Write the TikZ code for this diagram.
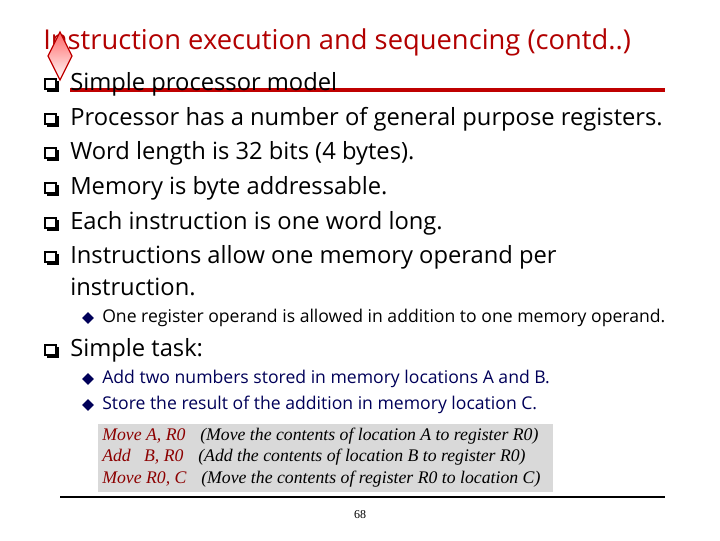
\documentclass[tikz,border=0pt]{standalone}
\usepackage{fontspec}
\usetikzlibrary{shapes.geometric}
\setmainfont{Open Sans}
\newfontfamily\codefont{Liberation Serif}
\begin{document}
\begin{tikzpicture}[x=0.75pt,y=-0.75pt,
  tx/.style={anchor=west,inner sep=0,font=\fontsize{17.8}{19}\selectfont},
  sub/.style={anchor=west,inner sep=0,font=\fontsize{13.2}{15}\selectfont,text=blue!35!black},
  cd/.style={anchor=west,inner sep=0,font=\codefont\itshape\fontsize{13.3}{15}\selectfont},
  db/.style={fill=blue!35!black,shape=diamond,minimum size=9pt,inner sep=0}]
\useasboundingbox (0,0) rectangle (720,540);
\fill[white] (0,0) rectangle (720,540);
% title
\node[anchor=west,inner sep=0,text=red!70!black,font=\fontsize{20.5}{22}\selectfont] (title) at (43,42) {Instruction execution and sequencing (contd..)};
% red underline
\coordinate (ra) at (70,90); \coordinate (rb) at (665,90);
\draw[red!75!black,line width=3pt] (ra) -- (rb);
% bullets
\foreach \y/\n in {84/a,119/b,153/c,188/d,223/e,257/f,350/g}{
  \fill[black] (47,\y-3) rectangle (59,\y+8);
  \draw[black,fill=white,line width=0.9pt] (45,\y-5) rectangle (56,\y+5);
  \coordinate (q\n) at (50,\y);
}
% diamond ornament
\path[top color=red!60,bottom color=white,draw=red!75!black,line width=1pt] (60,32) -- (72,56) -- (60,80) -- (48,56) -- cycle;
\node[tx] (t1) at (70,84) {Simple processor model};
\node[tx] (t2) at (70,119) {Processor has a number of general purpose registers.};
\node[tx] (t3) at (70,153) {Word length is 32 bits (4 bytes).};
\node[tx] (t4) at (70,188) {Memory is byte addressable.};
\node[tx] (t5) at (70,223) {Each instruction is one word long.};
\node[tx] (t6) at (70,257) {Instructions allow one memory operand per};
\node[tx] (t7) at (70,287) {instruction.};
\node[db] (d1) at (88,318) {};
\node[sub,text=black] (s1) at (102,318) {One register operand is allowed in addition to one memory operand.};
\node[tx] (t8) at (70,350) {Simple task:};
\node[db] (d2) at (88,379) {};
\node[sub] (s2) at (102,379) {Add two numbers stored in memory locations A and B.};
\node[db] (d3) at (88,405) {};
\node[sub] (s3) at (102,405) {Store the result of the addition in memory location C.};
% code box
\fill[black!15] (98,424) rectangle (553,492);
\node[cd,text=red!55!black] (c1) at (102,436) {Move A, R0};
\node[cd,text=red!55!black] (c2) at (102,457) {Add\ \ \ B, R0};
\node[cd,text=red!55!black] (c3) at (102,479) {Move R0, C};
\node[cd] (m1) at (200,436) {(Move the contents of location A to register R0)};
\node[cd] (m2) at (198,457) {(Add the contents of location B to register R0)};
\node[cd] (m3) at (201,479) {(Move the contents of register R0 to location C)};
% footer
\coordinate (fa) at (60,497); \coordinate (fb) at (665,497);
\draw[black,line width=1.2pt] (fa) -- (fb);
\node[inner sep=0,font=\codefont\fontsize{9}{10}\selectfont] (pg) at (360,515) {68};
\end{tikzpicture}
\end{document}
